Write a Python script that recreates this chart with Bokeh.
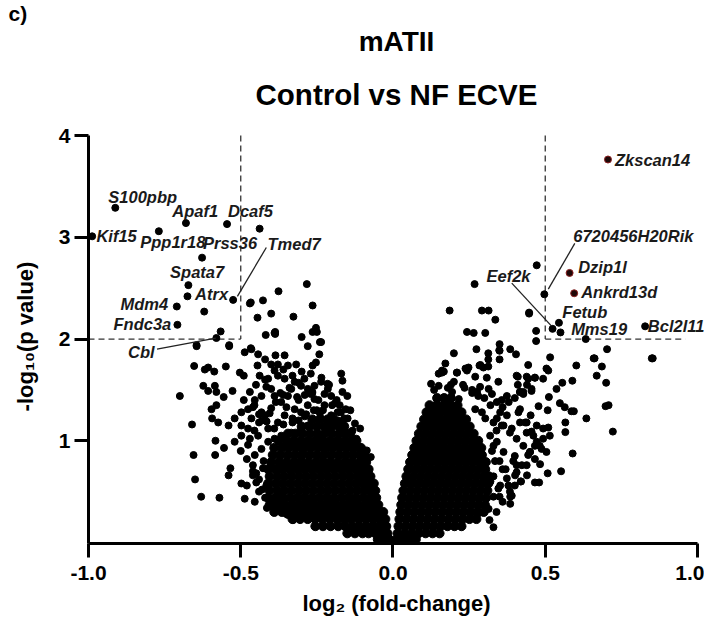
from bokeh.plotting import figure
from bokeh.models import ColumnDataSource, Title, FixedTicker, Range1d
from bokeh.core.properties import value
from bokeh.embed import file_html
from bokeh.resources import INLINE

# ---------------- data ----------------
gene_names = ["S100pbp", "Kif15", "Apaf1", "Dcaf5", "Ppp1r18", "Prss36", "Tmed7",
              "Spata7", "Atrx", "Mdm4", "Fndc3a", "Cbl",
              "Zkscan14", "6720456H20Rik", "Dzip1l", "Eef2k", "Ankrd13d",
              "Fetub", "Mms19", "Bcl2l11"]
gene_fc = [-0.912, -0.988, -0.68, -0.438, -0.769, -0.627, -0.525,
           -0.672, -0.675, -0.71, -0.708, -0.58,
           0.706, 0.497, 0.58, 0.524, 0.595, 0.545, 0.55, 0.828]
gene_p = [3.29, 3.01, 3.14, 3.085, 3.06, 2.80, 2.385,
          2.53, 2.42, 2.32, 2.14, 2.01,
          3.765, 2.44, 2.65, 2.10, 2.45, 2.16, 2.065, 2.125]
red_genes = ["Zkscan14", "Dzip1l", "Ankrd13d"]

label_fc = [-0.935, -0.974, -0.725, -0.542, -0.83, -0.624, -0.412,
            -0.732, -0.65, -0.895, -0.918, -0.87,
            0.729, 0.592, 0.608, 0.307, 0.618, 0.556, 0.585, 0.837]
label_p = [3.40, 3.01, 3.255, 3.255, 2.95, 2.94, 2.93,
           2.66, 2.44, 2.34, 2.15, 1.87,
           3.765, 3.01, 2.706, 2.62, 2.46, 2.265, 2.10, 2.127]

leader_fc0 = [-0.416, 0.597, 0.39, -0.775]
leader_p0 = [2.90, 2.94, 2.55, 1.90]
leader_fc1 = [-0.511, 0.51, 0.52, -0.582]
leader_p1 = [2.42, 2.49, 2.13, 2.01]

fc_cut = [-0.5, 0.5]
p_cut = 2.0
p_top = 4.0
dash_right_end = 0.96

scatter_fc = [
    -0.545, -0.62, -0.566,
    -0.70, -0.66, -0.655, -0.65, -0.63, -0.57, -0.583, -0.584, -0.555, -0.653, -0.618, -0.607,
    -0.587, -0.549, -0.645, -0.538, -0.623, -0.607, -0.585, -0.58, -0.556, -0.527, -0.596, -0.58,
    -0.594, -0.574, -0.54, -0.54, -0.534, -0.52, -0.498, -0.48, -0.487, -0.454, -0.414, -0.383,
    -0.378, -0.35, -0.328, -0.487, -0.465, -0.443, -0.42, -0.445, -0.503, -0.49, -0.418, -0.389,
    -0.30, -0.264, -0.28, -0.24, -0.242, -0.253, -0.264, -0.386, -0.356, -0.40, -0.378, -0.345,
    -0.318, -0.17, -0.166, -0.108, -0.133, -0.086, -0.073, -0.166, -0.15, -0.155, -0.182,
    -0.376, -0.283, -0.264, -0.47, -0.427, -0.445, -0.40, -0.327, -0.253, -0.25, -0.387, -0.387,
    -0.236, -0.467, -0.645, -0.538, -0.467,
    -0.438, -0.410, -0.389, -0.378, -0.356, -0.416, -0.400, -0.432, -0.454, -0.476, -0.498, -0.52,
    -0.498, -0.465, -0.432, -0.389, -0.367, -0.334, -0.345, -0.323, -0.291, -0.302, -0.280, -0.258,
    -0.236, -0.214, -0.203, -0.225, -0.258, -0.280, -0.302, -0.323, -0.356, -0.378, -0.410, -0.443,
    -0.476, -0.498, -0.476, -0.454, -0.432, -0.410, -0.389, -0.280, -0.236, -0.203, -0.171, -0.149,
    -0.182, -0.214, -0.247, -0.302, -0.334, -0.367, -0.460, -0.449, -0.427, -0.449, -0.416, -0.378,
    -0.389, -0.367, -0.345,
    -0.43, -0.405, -0.35, -0.31, -0.27, -0.23, -0.19, -0.16, -0.125, -0.455, -0.33, -0.29,
    -0.25, -0.21, -0.175, -0.14, -0.37, -0.315, -0.265, -0.215, -0.18, -0.425, -0.46, -0.44,
    0.268, 0.186, 0.292, 0.314, 0.336, 0.447, 0.47, 0.47, 0.633, 0.85, 0.703, 0.659, 0.686,
    0.602, 0.669, 0.70, 0.589, 0.556, 0.516, 0.444, 0.504, 0.51, 0.537, 0.512, 0.478, 0.508,
    0.548, 0.564, 0.586, 0.594, 0.698, 0.708, 0.635, 0.722, 0.566, 0.566, 0.59, 0.552, 0.508,
    0.48, 0.385, 0.40, 0.317, 0.20, 0.243, 0.265, 0.303, 0.274, 0.35, 0.35, 0.35, 0.313, 0.313,
    0.313, 0.385, 0.404, 0.287, 0.297, 0.172, 0.161, 0.15, 0.21, 0.238, 0.248, 0.41, 0.439,
    0.466, 0.493, 0.44, 0.455, 0.41, 0.417, 0.428, 0.374, 0.417, 0.452, 0.439, 0.472, 0.493,
    0.51, 0.493, 0.515, 0.472, 0.488, 0.504, 0.45, 0.466, 0.483, 0.472, 0.447, 0.662, 0.853,
    0.161, 0.21, 0.243, 0.308, 0.346, 0.314, 0.286, 0.276, 0.325, 0.341, 0.357, 0.406, 0.444,
    0.466, 0.417, 0.428, 0.455, 0.150, 0.194, 0.216, 0.145, 0.172, 0.27, 0.292, 0.303, 0.33,
    0.357, 0.39, 0.412, 0.434, 0.455, 0.466, 0.444, 0.423, 0.401, 0.379, 0.39, 0.346, 0.314,
    0.276, 0.466, 0.349, 0.167, 0.284, 0.27,
    0.341, 0.363, 0.384, 0.406, 0.428, 0.45, 0.439, 0.406, 0.374, 0.352, 0.384, 0.406, 0.363,
    0.341, 0.319, 0.461, 0.482, 0.439, 0.417, 0.374, 0.352,
    0.325, 0.335, 0.33, 0.36, 0.395, 0.42, 0.385, 0.35, 0.33, 0.26, 0.235, 0.19, 0.135, 0.125,
]
scatter_p = [
    3.13, 2.27, 2.075,
    1.44, 1.16, 0.86, 0.62, 0.45, 0.44, 1.00, 0.86, 0.93, 1.735, 1.70, 1.72,
    1.68, 1.73, 1.94, 1.94, 1.54, 1.49, 1.54, 1.48, 1.43, 1.49, 1.31, 1.35,
    1.22, 1.18, 1.15, 0.66, 0.73, 0.99, 0.58, 0.56, 0.43, 0.40, 0.34, 0.33,
    0.38, 0.28, 0.22, 1.87, 1.90, 1.85, 1.80, 1.74, 1.67, 1.64, 2.04, 2.06,
    2.02, 2.07, 1.93, 1.97, 1.85, 1.77, 1.74, 1.84, 1.84, 1.75, 1.75, 1.74,
    1.75, 1.66, 1.59, 1.12, 1.10, 0.905, 0.84, 1.48, 1.44, 1.31, 1.28,
    2.47, 2.54, 2.33, 2.35, 2.38, 2.21, 2.25, 2.22, 2.11, 2.07, 2.07, 2.05,
    1.97, 1.91, 1.93, 1.93, 2.36,
    1.64, 1.61, 1.69, 1.64, 1.61, 1.53, 1.51, 1.44, 1.40, 1.31, 1.28, 1.22,
    1.15, 1.22, 1.28, 1.44, 1.38, 1.51, 1.44, 1.58, 1.61, 1.54, 1.51, 1.54,
    1.58, 1.51, 1.44, 1.35, 1.41, 1.35, 1.28, 1.31, 1.25, 1.18, 1.12, 1.05,
    1.12, 1.05, 0.96, 0.86, 0.92, 0.99, 1.02, 1.15, 1.22, 1.25, 1.28, 1.22,
    1.15, 1.12, 1.05, 1.12, 1.08, 1.05, 0.76, 0.68, 0.73, 0.59, 0.56, 0.50,
    0.40, 0.33, 0.27,
    1.20, 1.27, 1.33, 1.40, 1.46, 1.30, 1.37, 1.22, 1.17, 1.35, 1.18, 1.24,
    1.30, 1.20, 1.35, 1.30, 1.47, 1.43, 1.47, 1.56, 1.20, 0.80, 0.66, 0.50,
    2.54, 2.28, 2.28, 2.28, 2.19, 2.25, 2.08, 1.98, 2.00, 1.81, 1.90, 1.81, 1.73,
    1.74, 1.64, 1.57, 1.59, 1.57, 1.82, 1.745, 1.71, 1.69, 1.51, 1.43, 1.34, 1.30,
    1.37, 1.33, 1.29, 1.29, 1.34, 1.35, 1.22, 1.09, 1.18, 1.085, 0.875, 0.70, 0.68,
    0.59, 0.45, 0.56, 0.22, 1.86, 2.07, 2.06, 2.06, 1.90, 1.95, 1.885, 1.80, 1.86, 1.80,
    1.73, 1.90, 1.85, 1.745, 1.72, 1.76, 1.69, 1.66, 1.67, 1.71, 1.72, 1.63, 1.63,
    1.62, 1.61, 1.55, 1.51, 1.55, 1.48, 1.48, 1.44, 1.31, 1.25, 1.18, 1.15, 1.12,
    1.13, 1.02, 1.05, 0.99, 0.92, 0.89, 0.89, 0.82, 0.77, 2.725, 2.26, 1.81, 1.81,
    1.67, 1.67, 1.69, 1.62, 1.58, 1.51, 1.53, 1.48, 1.46, 1.38, 1.40, 1.64, 1.61,
    1.62, 1.48, 1.46, 1.49, 1.54, 1.48, 1.41, 1.41, 1.38, 1.31, 1.28, 1.22, 1.18,
    1.15, 1.12, 1.28, 1.18, 1.09, 0.95, 0.86, 0.76, 0.66, 0.56, 0.46, 0.53, 0.33,
    0.27, 0.59, 1.89, 1.68, 1.74, 1.63,
    1.22, 1.15, 1.08, 1.02, 0.95, 0.89, 0.76, 0.69, 0.63, 0.56, 0.50, 0.76, 0.89,
    0.99, 1.05, 1.05, 0.95, 1.08, 1.18, 1.25, 1.28,
    0.90, 0.80, 0.65, 0.72, 0.80, 0.60, 0.38, 0.45, 0.15, 1.47, 1.52, 1.55, 1.50, 1.56,
]

arm_fc = [-0.47, -0.455, -0.44, -0.42, -0.40, -0.385, -0.36, -0.34, -0.31, -0.29, -0.265,
          -0.245, -0.225, -0.20, -0.185, -0.21, -0.235, -0.27, -0.30, -0.33, -0.36, -0.42,
          -0.45, -0.47, -0.49, -0.46, -0.44, -0.415, -0.39, -0.36, -0.33, -0.31, -0.285,
          -0.26, -0.24, -0.19, -0.165, -0.14, -0.12, -0.5, -0.48, -0.46, -0.44, -0.43, -0.42,
          0.32, 0.30, 0.28, 0.26, 0.23, 0.20, 0.18, 0.13, 0.12, 0.36, 0.38, 0.40, 0.34,
          0.33, 0.35, 0.37, 0.40, 0.42, 0.44, 0.36, 0.34, 0.33, 0.32]
arm_p = [1.02, 1.10, 1.18, 1.25, 1.32, 1.38, 1.45, 1.52, 1.57, 1.45, 1.48,
         1.40, 1.46, 1.35, 1.40, 1.55, 1.62, 1.66, 1.68, 1.64, 1.70, 1.60,
         1.55, 1.48, 1.40, 1.33, 1.26, 1.19, 1.12, 1.16, 1.22, 1.20, 1.26,
         1.30, 1.27, 1.20, 1.16, 1.08, 1.02, 0.90, 0.82, 0.70, 0.62, 0.52, 0.44,
         1.35, 1.42, 1.44, 1.50, 1.55, 1.58, 1.52, 1.30, 1.25, 1.33, 1.38, 1.42, 1.10,
         0.95, 0.80, 0.72, 0.85, 0.60, 0.66, 0.40, 0.30, 0.45, 0.60]

left_core_p = [0.03, 0.09, 0.16, 0.23, 0.30, 0.37, 0.44, 0.51, 0.58, 0.65, 0.72, 0.79,
               0.86, 0.93, 1.00, 1.07, 1.14, 1.21]
left_core_fc = [
    [-0.05, -0.03, -0.012],
    [-0.15, -0.125, -0.10, -0.08, -0.058, -0.037, -0.018],
    [-0.255, -0.23, -0.205, -0.18, -0.157, -0.133, -0.11, -0.087, -0.065, -0.043, -0.022],
    [-0.33, -0.305, -0.28, -0.256, -0.232, -0.208, -0.184, -0.16, -0.137, -0.113, -0.09, -0.067, -0.045, -0.025],
    [-0.39, -0.365, -0.34, -0.316, -0.292, -0.268, -0.244, -0.22, -0.196, -0.172, -0.148, -0.124, -0.1, -0.077, -0.054, -0.032],
    [-0.405, -0.38, -0.355, -0.33, -0.306, -0.282, -0.258, -0.234, -0.21, -0.186, -0.162, -0.138, -0.114, -0.09, -0.068, -0.048],
    [-0.41, -0.386, -0.362, -0.338, -0.314, -0.29, -0.266, -0.242, -0.218, -0.194, -0.17, -0.146, -0.122, -0.098, -0.076, -0.055],
    [-0.405, -0.38, -0.356, -0.332, -0.308, -0.284, -0.26, -0.236, -0.212, -0.188, -0.164, -0.14, -0.116, -0.093, -0.072, -0.058],
    [-0.41, -0.386, -0.362, -0.338, -0.314, -0.29, -0.266, -0.242, -0.218, -0.194, -0.17, -0.146, -0.122, -0.099, -0.078, -0.063],
    [-0.405, -0.38, -0.356, -0.332, -0.308, -0.284, -0.26, -0.236, -0.212, -0.188, -0.164, -0.14, -0.116, -0.094, -0.074],
    [-0.41, -0.386, -0.362, -0.338, -0.314, -0.29, -0.266, -0.242, -0.218, -0.194, -0.17, -0.146, -0.122, -0.1, -0.08],
    [-0.4, -0.375, -0.35, -0.326, -0.302, -0.278, -0.254, -0.23, -0.206, -0.182, -0.158, -0.134, -0.11, -0.088],
    [-0.395, -0.37, -0.346, -0.322, -0.298, -0.274, -0.25, -0.226, -0.202, -0.178, -0.154, -0.13, -0.107, -0.095],
    [-0.39, -0.365, -0.34, -0.316, -0.292, -0.268, -0.244, -0.22, -0.196, -0.172, -0.148, -0.125, -0.105],
    [-0.375, -0.35, -0.326, -0.302, -0.278, -0.254, -0.23, -0.206, -0.182, -0.158, -0.135, -0.12],
    [-0.345, -0.32, -0.296, -0.272, -0.248, -0.224, -0.2, -0.176, -0.155, -0.14],
    [-0.3, -0.275, -0.25, -0.226, -0.202, -0.178, -0.16],
    [-0.265, -0.24, -0.215, -0.195],
]
right_core_p = [0.03, 0.09, 0.16, 0.23, 0.30, 0.37, 0.44, 0.51, 0.58, 0.65, 0.72, 0.79,
                0.86, 0.93, 1.00, 1.07, 1.14, 1.21, 1.28, 1.35, 1.42]
right_core_fc = [
    [0.012, 0.032, 0.052, 0.075],
    [0.015, 0.038, 0.061, 0.084, 0.107, 0.13, 0.153],
    [0.018, 0.041, 0.064, 0.087, 0.11, 0.133, 0.156, 0.179, 0.202, 0.225],
    [0.021, 0.044, 0.067, 0.09, 0.113, 0.136, 0.159, 0.182, 0.205, 0.228, 0.251, 0.274],
    [0.024, 0.047, 0.07, 0.093, 0.116, 0.139, 0.162, 0.185, 0.208, 0.231, 0.254, 0.277, 0.298],
    [0.027, 0.05, 0.073, 0.096, 0.119, 0.142, 0.165, 0.188, 0.211, 0.234, 0.257, 0.28, 0.302],
    [0.03, 0.053, 0.076, 0.099, 0.122, 0.145, 0.168, 0.191, 0.214, 0.237, 0.26, 0.283, 0.306],
    [0.034, 0.057, 0.08, 0.103, 0.126, 0.149, 0.172, 0.195, 0.218, 0.241, 0.264, 0.287, 0.31],
    [0.039, 0.062, 0.085, 0.108, 0.131, 0.154, 0.177, 0.2, 0.223, 0.246, 0.269, 0.292, 0.313],
    [0.044, 0.067, 0.09, 0.113, 0.136, 0.159, 0.182, 0.205, 0.228, 0.251, 0.274, 0.297, 0.315],
    [0.05, 0.073, 0.096, 0.119, 0.142, 0.165, 0.188, 0.211, 0.234, 0.257, 0.28, 0.303],
    [0.056, 0.079, 0.102, 0.125, 0.148, 0.171, 0.194, 0.217, 0.24, 0.263, 0.286, 0.305],
    [0.063, 0.086, 0.109, 0.132, 0.155, 0.178, 0.201, 0.224, 0.247, 0.27, 0.292],
    [0.07, 0.093, 0.116, 0.139, 0.162, 0.185, 0.208, 0.231, 0.254, 0.277, 0.29],
    [0.077, 0.1, 0.123, 0.146, 0.169, 0.192, 0.215, 0.238, 0.261, 0.28],
    [0.085, 0.108, 0.131, 0.154, 0.177, 0.2, 0.223, 0.246, 0.265],
    [0.093, 0.116, 0.139, 0.162, 0.185, 0.208, 0.231, 0.252],
    [0.102, 0.125, 0.148, 0.171, 0.194, 0.217, 0.24],
    [0.11, 0.133, 0.156, 0.179, 0.202, 0.225],
    [0.12, 0.143, 0.166, 0.189, 0.212],
    [0.145, 0.168, 0.19],
]

x_ticks = [-1.0, -0.5, 0.0, 0.5, 1.0]
x_tick_labels = ["-1.0", "-0.5", "0.0", "0.5", "1.0"]
y_ticks = [1, 2, 3, 4]

panel_letter = "c)"
title_top = "mATII"
title_main = "Control vs NF ECVE"
x_label = "log\u2082 (fold-change)"
y_label = "-log\u2081\u2080(p value)"

# ---------------- build ----------------
FONT = "Liberation Sans"

core_x, core_y = [], []
for pv, row in zip(left_core_p, left_core_fc):
    for fc in row:
        core_x.append(fc)
        core_y.append(pv)
for pv, row in zip(right_core_p, right_core_fc):
    for fc in row:
        core_x.append(fc)
        core_y.append(pv)

p = figure(width=704, height=623, output_backend="svg", toolbar_location=None,
           x_range=Range1d(-1.0, 1.023), y_range=Range1d(-0.01, 4.06),
           min_border_left=88, min_border_right=0, min_border_top=129,
           min_border_bottom=80)
p.outline_line_color = None
p.grid.visible = False
p.background_fill_color = "white"
p.border_fill_color = "white"

# titles: figure title is outermost, added panels stack outward from the frame
p.title.text = panel_letter
p.title.align = "left"
p.title.offset = -80
p.title.text_font = FONT
p.title.text_font_style = "bold"
p.title.text_font_size = "21px"
p.title.text_color = "black"
p.title.standoff = -4
p.add_layout(Title(text=title_main, align="center", text_font=FONT,
                   text_font_style="bold", text_font_size="29.5px", text_color="black",
                   standoff=37), "above")
p.add_layout(Title(text=title_top, align="center", text_font=FONT,
                   text_font_style="bold", text_font_size="28px", text_color="black",
                   standoff=2), "above")

for ax in (p.xaxis[0], p.yaxis[0]):
    ax.axis_line_width = 3
    ax.axis_line_color = "black"
    ax.major_tick_line_width = 3
    ax.major_tick_line_color = "black"
    ax.major_tick_out = 14
    ax.major_tick_in = 0
    ax.minor_tick_line_color = None
    ax.major_label_text_font = FONT
    ax.major_label_text_font_style = "bold"
    ax.major_label_text_font_size = "21px"
    ax.major_label_text_color = "black"
    ax.axis_label_text_font = FONT
    ax.axis_label_text_font_style = "bold"
    ax.axis_label_text_font_size = "22px"
    ax.axis_label_text_color = "black"

p.xaxis.ticker = FixedTicker(ticks=x_ticks)
p.xaxis.major_label_overrides = {t: l for t, l in zip(x_ticks, x_tick_labels)}
p.xaxis.bounds = (-1.0, 1.0)
p.xaxis.major_label_standoff = 8
p.xaxis.axis_label = x_label
p.xaxis.axis_label_standoff = 8

p.yaxis.ticker = FixedTicker(ticks=y_ticks)
p.yaxis.bounds = (-0.01, 4.0)
p.yaxis.major_label_standoff = 4
p.yaxis.axis_label = y_label
p.yaxis.axis_label_standoff = 18

dash = dict(line_color="#333333", line_width=1.3, line_dash="6 4")
p.line([fc_cut[0], fc_cut[0]], [p_top, p_cut], **dash)
p.line([-1.0, fc_cut[0]], [p_cut, p_cut], **dash)
p.line([fc_cut[1], fc_cut[1]], [p_top, p_cut], **dash)
p.line([fc_cut[1], dash_right_end], [p_cut, p_cut], **dash)

p.scatter(core_x, core_y, size=9, color="black")
p.scatter(scatter_fc, scatter_p, size=7, color="black")
p.scatter(arm_fc, arm_p, size=7, color="black")
black_fc = [f for f, g in zip(gene_fc, gene_names) if g not in red_genes]
black_p = [v for v, g in zip(gene_p, gene_names) if g not in red_genes]
red_fc = [f for f, g in zip(gene_fc, gene_names) if g in red_genes]
red_p = [v for v, g in zip(gene_p, gene_names) if g in red_genes]
p.scatter(black_fc, black_p, size=7, color="black")
p.scatter(red_fc, red_p, size=7, fill_color="#1e0808", line_color="#8a2020", line_width=1)

p.segment(leader_fc0, leader_p0, leader_fc1, leader_p1, line_color="#222222", line_width=1.3)

src = ColumnDataSource(dict(x=label_fc, y=label_p, t=gene_names))
p.text(x="x", y="y", text="t", source=src, text_font=value(FONT),
       text_font_style="bold italic", text_font_size="16.5px",
       text_color="#1a1a1a", text_baseline="middle", text_align="left")

open("out.html", "w").write(file_html(p, INLINE))
